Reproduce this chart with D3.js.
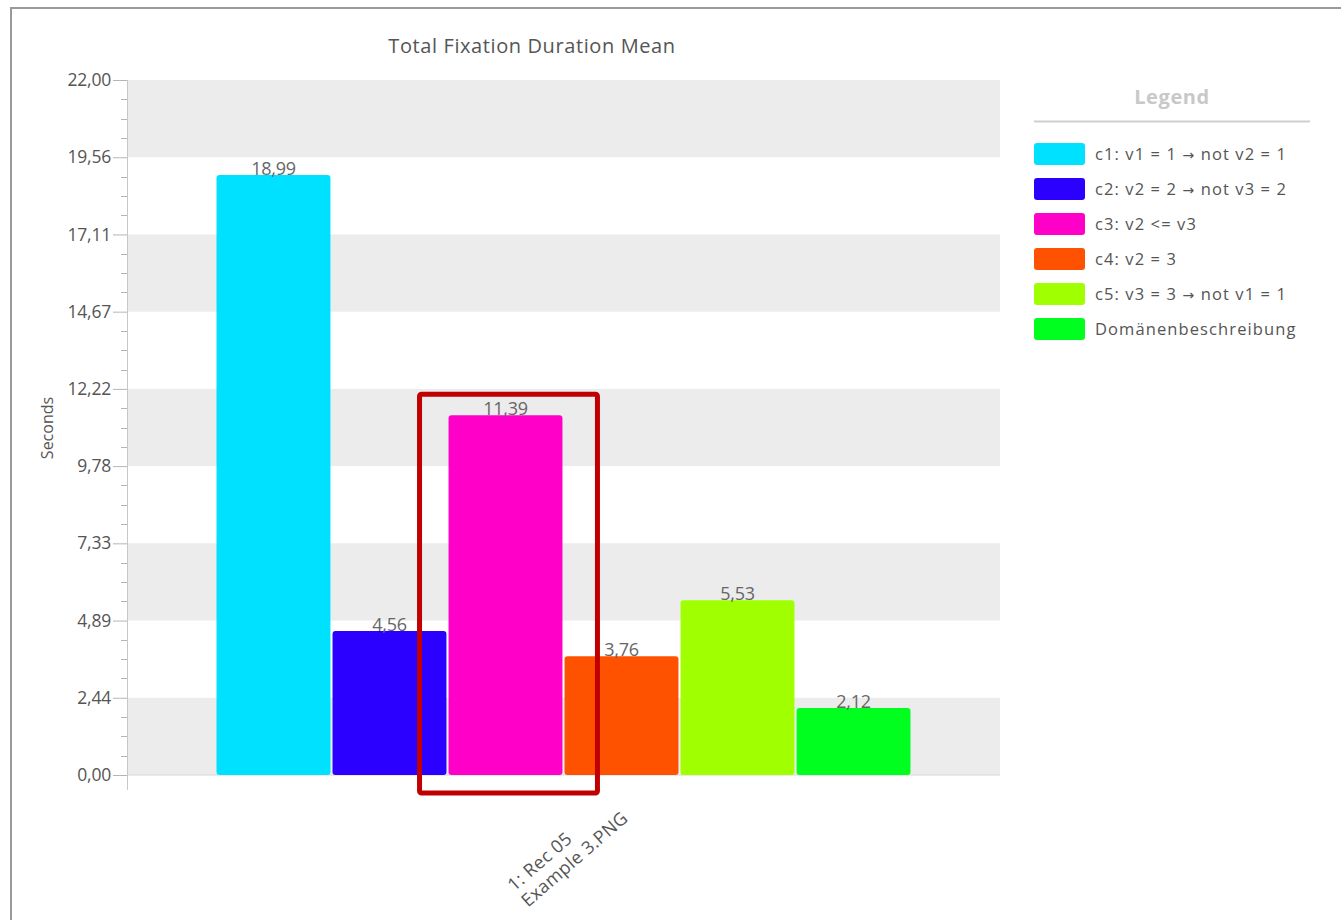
<!DOCTYPE html>
<html><head><meta charset="utf-8">
<script src="https://cdn.jsdelivr.net/npm/d3@7"></script>
<style>
html,body{margin:0;padding:0;background:#fff;}
svg{display:block;font-family:"Open Sans",sans-serif;}
</style></head>
<body>
<svg id="chart" width="1341" height="920"></svg>
<script>
const title = "Total Fixation Duration Mean";
const yAxisLabel = "Seconds";
const categories = ["1: Rec 05\nExample 3.PNG"];
const seriesNames = ["c1: v1 = 1 \u2192 not v2 = 1", "c2: v2 = 2 \u2192 not v3 = 2", "c3: v2 <= v3", "c4: v2 = 3", "c5: v3 = 3 \u2192 not v1 = 1", "Domänenbeschreibung"];
const seriesValues = [18.99, 4.56, 11.39, 3.76, 5.53, 2.12];
const seriesColors = ["#00e1ff", "#2b00ff", "#ff00c8", "#ff5200", "#a0ff00", "#00ff1e"];
const yMax = 22;
const yTickValues = [0, 2.44, 4.89, 7.33, 9.78, 12.22, 14.67, 17.11, 19.56, 22.00];
const highlightedSeries = "c3: v2 <= v3";

const svg = d3.select("#chart");
const fmt = v => d3.format(".2f")(v).replace(".", ",");

// outer frame
svg.append("path").attr("d", "M11,921 L11,8 L1342,8").attr("fill", "none").attr("stroke", "#9a9a9a").attr("stroke-width", 2);

const plot = {left: 127, right: 1000, top: 80, bottom: 775};
const y = d3.scaleLinear().domain([0, yMax]).range([plot.bottom, plot.top]);
const x0 = d3.scaleBand().domain(categories).range([plot.left, plot.right]).paddingInner(0).paddingOuter(0.129);
const x1 = d3.scaleBand().domain(seriesNames).range([0, x0.bandwidth()]).paddingInner(0.018).paddingOuter(0);

// alternating bands
const majors = d3.range(0, 10).map(i => i * yMax / 9);
for (let i = 0; i < 9; i++) {
  if (i % 2 === 0) {
    svg.append("rect").attr("x", plot.left).attr("width", plot.right - plot.left)
      .attr("y", y(majors[i + 1])).attr("height", y(majors[i]) - y(majors[i + 1]))
      .attr("fill", "#ececec");
  }
}
// baseline
svg.append("line").attr("x1", plot.left).attr("x2", plot.right).attr("y1", y(0)).attr("y2", y(0)).attr("stroke", "#d6d6d6").attr("stroke-width", 1);

// y axis
const yAxis = d3.axisLeft(y).tickValues(majors).tickSize(14).tickPadding(2).tickFormat((d, i) => fmt(yTickValues[i]));
const gy = svg.append("g").attr("transform", `translate(${plot.left},0)`).call(yAxis);
gy.select(".domain").attr("stroke", "#c8c8c8").attr("d", `M0.5,${plot.top}V${plot.bottom + 15}`);
gy.selectAll(".tick line").attr("stroke", "#b5b5b5");
gy.selectAll(".tick text").attr("fill", "#555").attr("font-size", 17.5).attr("font-family", "'Open Sans',sans-serif").attr("letter-spacing", -0.2);
const minor = [];
for (let i = 0; i < 9; i++) for (let k = 1; k < 4; k++) minor.push(majors[i] + k * (yMax / 9) / 4);
gy.selectAll(".minor").data(minor).enter().append("line").attr("class", "minor")
  .attr("x1", -6).attr("x2", 0).attr("y1", d => Math.round(y(d)) + 0.5).attr("y2", d => Math.round(y(d)) + 0.5).attr("stroke", "#b5b5b5");

// y label
svg.append("text").attr("transform", `translate(53,428) rotate(-90)`)
  .attr("text-anchor", "middle").attr("fill", "#555").attr("font-size", 16).text(yAxisLabel);

// title
svg.append("text").attr("x", 532).attr("y", 53).attr("text-anchor", "middle").attr("fill", "#555")
  .attr("font-size", 20).attr("letter-spacing", 0.6).text(title);

// bars
const data = seriesNames.map((s, i) => ({cat: categories[0], name: s, value: seriesValues[i], color: seriesColors[i]}));
const gb = svg.append("g");
gb.selectAll("rect").data(data).enter().append("rect")
  .attr("x", d => x0(d.cat) + x1(d.name)).attr("width", x1.bandwidth())
  .attr("y", d => y(d.value)).attr("height", d => y(0) - y(d.value))
  .attr("rx", 3).attr("fill", d => d.color);
gb.selectAll("text").data(data).enter().append("text")
  .attr("x", d => x0(d.cat) + x1(d.name) + x1.bandwidth() / 2).attr("y", d => y(d.value) + 0)
  .attr("text-anchor", "middle").attr("fill", "#666").attr("font-size", 18).attr("letter-spacing", -0.3).text(d => fmt(d.value));

// highlight annotation around c3
const hd = data.find(d => d.name === highlightedSeries);
const hx = x0(hd.cat) + x1(hd.name);
svg.append("rect").attr("x", hx - 29).attr("y", y(hd.value) - 21)
  .attr("width", x1.bandwidth() + 64).attr("height", y(0) + 18 - (y(hd.value) - 21))
  .attr("rx", 2).attr("fill", "none").attr("stroke", "#c00000").attr("stroke-width", 5);

// x category label
categories.forEach(c => {
  const cx = x0(c) + x0.bandwidth() / 2;
  const g = svg.append("g").attr("transform", `translate(${cx + 52},${y(0) + 29}) rotate(-41)`);
  const lines = c.split("\n");
  const texts = lines.map((l, i) => g.append("text").attr("y", i * 21).attr("fill", "#555")
    .attr("font-size", 18).attr("letter-spacing", 0.4).text(l));
  const W = d3.max(texts, t => t.node().getComputedTextLength());
  texts.forEach(t => t.attr("x", -W));
});

// legend
svg.append("text").attr("x", 1172).attr("y", 104).attr("text-anchor", "middle").attr("fill", "#c8c8c8")
  .attr("font-size", 20).attr("letter-spacing", 0.6).attr("font-weight", "bold").text("Legend");
svg.append("line").attr("x1", 1034).attr("x2", 1310).attr("y1", 121.5).attr("y2", 121.5).attr("stroke", "#cfcfcf").attr("stroke-width", 2);
const lg = svg.append("g");
data.forEach((d, i) => {
  const yy = 143 + i * 35;
  lg.append("rect").attr("x", 1034).attr("y", yy).attr("width", 51).attr("height", 22).attr("rx", 3).attr("fill", d.color);
  const t = lg.append("text").attr("x", 1095).attr("y", yy + 17).attr("fill", "#555").attr("font-size", 16.5).attr("letter-spacing", 1.1);
  d.name.split(/(\u2192)/).forEach(part => {
    const ts = t.append("tspan").text(part);
    if (part === "\u2192") ts.attr("font-family", "'DejaVu Sans',sans-serif").attr("font-size", 14);
  });
});
</script>
</body></html>
